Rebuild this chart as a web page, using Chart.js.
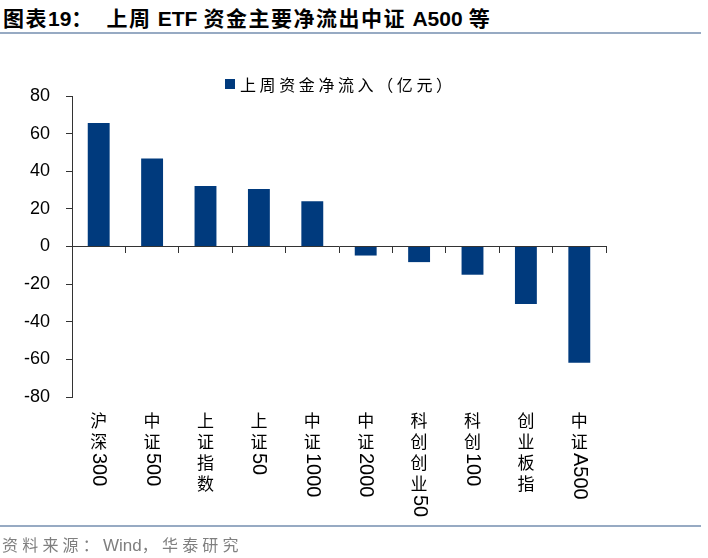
<!DOCTYPE html>
<html>
<head>
<meta charset="utf-8">
<script src="https://cdn.jsdelivr.net/npm/chart.js@4.4.1/dist/chart.umd.min.js"></script>
<style>
  body { margin: 0; width: 708px; height: 558px; background: #fff; position: relative; overflow: hidden;
         font-family: "Noto Sans CJK SC", sans-serif; }
  #title { position: absolute; left: 3px; top: 2px; font-size: 21px; font-weight: bold; white-space: pre; color: #000; letter-spacing: 1.5px; }
  #title .n { font-family: Arial, "Liberation Sans", sans-serif; letter-spacing: 0; }
  .rule { position: absolute; left: 0; width: 701px; height: 2px; background: #97aac3; }
  #src { position: absolute; left: 2px; top: 532px; font-size: 16px; color: #7f7f7f; white-space: pre; letter-spacing: 4.2px; }
  #src .n { font-family: Arial, "Liberation Sans", sans-serif; font-size: 17px; letter-spacing: 0; }
  canvas { position: absolute; left: 0; top: 0; }
</style>
</head>
<body>
<div id="title">图表<span class="n">19</span>：  上周 <span class="n">ETF</span> 资金主要净流出中证 <span class="n">A500</span> 等</div>
<div class="rule" style="top:32px"></div>
<canvas id="c" width="708" height="558"></canvas>
<div class="rule" style="top:525px"></div>
<div id="src">资料来源：<span class="n">Wind</span>，华泰研究</div>
<script>
// 上周 ETF 资金净流入（亿元）
const categories = ['沪深300', '中证500', '上证指数', '上证50', '中证1000', '中证2000', '科创创业50', '科创100', '创业板指', '中证A500'];
const netInflow  = [65.7, 46.8, 32.2, 30.6, 24.0, -4.8, -8.3, -15.0, -30.5, -61.8];
const yTicks     = [-80, -60, -40, -20, 0, 20, 40, 60, 80];
const seriesName = '上周资金净流入（亿元）';

const barColor = '#003a7d';
const axisColor = '#333';

// vertical stacked category labels + legend
const extras = {
  id: 'extras',
  afterDraw(chart) {
    const { ctx } = chart;
    const x = chart.scales.x;
    ctx.save();
    // legend
    ctx.fillStyle = barColor;
    ctx.fillRect(225, 79, 10, 10);
    ctx.fillStyle = '#000';
    ctx.font = '16px "Noto Sans CJK SC"';
    ctx.letterSpacing = '3.6px';
    ctx.textAlign = 'left';
    ctx.textBaseline = 'middle';
    ctx.fillText(chart.data.datasets[0].label, 240, 85);
    ctx.letterSpacing = '0px';

    // x labels: CJK upright, latin/digits rotated
    categories.forEach((lab, i) => {
      const cx = x.getPixelForValue(i);
      let y = 413;
      const parts = lab.match(/[\u4e00-\u9fff]|[^\u4e00-\u9fff]+/g);
      parts.forEach(p => {
        if (/[\u4e00-\u9fff]/.test(p)) {
          ctx.font = '17px "Noto Sans CJK SC"';
          ctx.textAlign = 'center';
          ctx.textBaseline = 'middle';
          ctx.fillText(p, cx, y + 8);
          y += 21;
        } else {
          ctx.font = '20px Arial, "Liberation Sans"';
          const w = ctx.measureText(p).width;
          ctx.save();
          ctx.translate(cx, y - 2);
          ctx.rotate(Math.PI / 2);
          ctx.textAlign = 'left';
          ctx.textBaseline = 'middle';
          ctx.fillText(p, 0, 0);
          ctx.restore();
          y += w;
        }
      });
    });
    ctx.restore();
  }
};

new Chart(document.getElementById('c').getContext('2d'), {
  type: 'bar',
  data: {
    labels: categories,
    datasets: [{
      label: seriesName,
      data: netInflow,
      backgroundColor: barColor,
      categoryPercentage: 1,
      barPercentage: 0.41
    }]
  },
  options: {
    responsive: false,
    animation: false,
    layout: { padding: { top: 96, right: 102, bottom: 161, left: 0 } },
    plugins: { legend: { display: false }, tooltip: { enabled: false } },
    scales: {
      x: {
        position: { y: 0 },
        ticks: { display: false },
        grid: { drawOnChartArea: false, tickLength: 6, color: axisColor, offset: true },
        border: { color: axisColor, width: 1 },
        afterFit: (s) => { s.height = 0; }
      },
      y: {
        min: yTicks[0],
        max: yTicks[yTicks.length - 1],
        afterBuildTicks: (s) => { s.ticks = yTicks.map(v => ({ value: v })); },
        ticks: { color: '#000', padding: 16, font: { family: 'Arial, "Liberation Sans"', size: 18 } },
        grid: { drawOnChartArea: false, tickLength: 6, color: axisColor },
        border: { color: axisColor, width: 1 },
        afterFit: (s) => { s.width = 72; }
      }
    }
  },
  plugins: [extras]
});
</script>
</body>
</html>
